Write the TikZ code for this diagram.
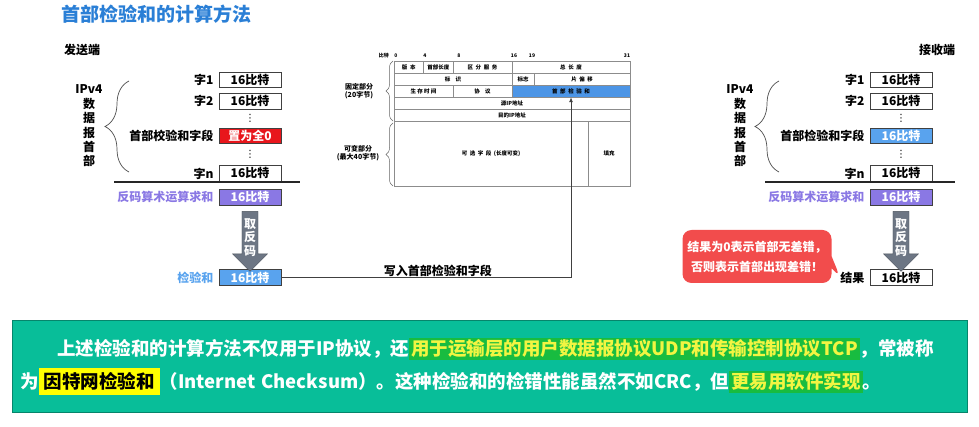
\documentclass[tikz,border=0pt]{standalone}
\usepackage{fontspec}
\setmainfont{Noto Sans CJK SC}
\newfontfamily\dotsfont{DejaVu Sans}
\definecolor{ckTitle}{HTML}{2A7FD6}
\definecolor{ckRed}{HTML}{E8161C}
\definecolor{ckPurple}{HTML}{8A78E4}
\definecolor{ckBlue}{HTML}{59A3EE}
\definecolor{ckGray}{HTML}{6D7684}
\definecolor{ckField}{HTML}{4C95E6}
\definecolor{ckCoral}{HTML}{F24C4C}
\definecolor{ckTeal}{HTML}{08BE99}
\definecolor{ckLeaf}{HTML}{18BC40}
\definecolor{ckLemon}{HTML}{F2F542}
\definecolor{ckYellow}{HTML}{FFFF00}
\usetikzlibrary{arrows.meta, positioning, shapes.arrows, shapes.callouts, decorations.pathreplacing, calc}
\newcommand{\hlg}[1]{{\setlength{\fboxsep}{2pt}\colorbox{ckLeaf}{\textcolor{ckLemon}{#1}}}}
\newcommand{\hly}[1]{{\setlength{\fboxsep}{5pt}\colorbox{ckYellow}{\textcolor{black}{#1}}}}

\begin{document}
\begin{tikzpicture}[
    x=1pt, y=-1pt,
    node distance=5pt,
    bitbox/.style={draw=black!75, line width=0.8pt, minimum width=62pt, minimum height=15.5pt,
      inner sep=0pt, font=\bfseries\fontsize{12}{14}\selectfont},
    zerobox/.style={bitbox, fill=ckRed, text=white},
    sumbox/.style={bitbox, fill=ckPurple, text=white},
    ckbox/.style={bitbox, fill=ckBlue, text=white},
    wordlab/.style={font=\bfseries\fontsize{12}{14}\selectfont, inner sep=0pt},
    endlab/.style={font=\bfseries\fontsize{12}{14}\selectfont},
    titlelab/.style={anchor=west, text=ckTitle, font=\bfseries\fontsize{19}{22}\selectfont},
    vtext/.style={align=center, font=\bfseries\fontsize{12}{14.4}\selectfont},
    vdots/.style={inner sep=0pt, font=\dotsfont\fontsize{10}{11}\selectfont},
    bigbrace/.style={decorate, decoration={brace, amplitude=24pt}, draw=black!70, line width=0.7pt},
    hline/.style={line width=1.6pt, black!85},
    negarrow/.style={single arrow, shape border rotate=270, fill=ckGray, draw=ckGray!70!black,
      text=white, minimum height=60pt, minimum width=35pt, single arrow head extend=8.5pt,
      inner sep=1pt, align=center, font=\bfseries\fontsize{12}{13.5}\selectfont},
    hcell/.style={draw=black!45, line width=0.5pt, minimum height=12pt, inner sep=0pt,
      font=\bfseries\fontsize{5.5}{6}\selectfont},
    bitnum/.style={inner sep=0pt, font=\bfseries\fontsize{5}{6}\selectfont},
    tbrace/.style={decorate, decoration={brace, amplitude=7pt}, draw=black!60, line width=0.5pt},
    partlab/.style={align=center, font=\bfseries\fontsize{7}{8.5}\selectfont},
    wline/.style={draw=black!75, line width=0.8pt, -{Latex[length=5pt, width=4pt]}},
    calloutbox/.style={rectangle callout, fill=ckCoral, text=white, rounded corners=9pt,
      minimum width=149pt, minimum height=53pt, align=center, callout pointer width=12pt,
      font=\bfseries\fontsize{12}{20}\selectfont},
    notebox/.style={fill=ckTeal, draw=ckTeal!70!black, line width=0.8pt, text width=939pt,
      inner xsep=8pt, minimum height=92pt, align=left, text=white,
      font=\bfseries\fontsize{18.5}{33}\selectfont},
  ]
  \useasboundingbox (0,0) rectangle (979,427);

  \node[titlelab] (title) at (58,14) {首部检验和的计算方法};

  % sender side
  \node[endlab] (sender) at (82,50) {发送端};
  \node[bitbox] (sw1) at (250,80) {16比特};
  \node[bitbox, below=5pt of sw1] (sw2) {16比特};
  \node[zerobox, below=18.5pt of sw2] (sck) {置为全0};
  \node[bitbox, below=21pt of sck] (swn) {16比特};
  \node[sumbox, below=7.5pt of swn] (ssum) {16比特};
  \node[ckbox, below=64pt of ssum] (sres) {16比特};

  \node[wordlab, left=5pt of sw1] (sw1lab) {字1};
  \node[wordlab, left=5pt of sw2] (sw2lab) {字2};
  \node[wordlab, left=5pt of sck] (scklab) {首部校验和字段};
  \node[wordlab, left=5pt of swn] (swnlab) {字n};
  \node[wordlab, text=ckPurple, left=5pt of ssum] (ssumlab) {反码算术运算求和};
  \node[wordlab, text=ckBlue, left=5pt of sres] (sreslab) {检验和};
  \node[vdots] (sdot1) at ($(sw2.south)!0.5!(sck.north)$) {⋮};
  \node[vdots] (sdot2) at ($(sck.south)!0.5!(swn.north)$) {⋮};

  \node[vtext] (sipv) at (89,126) {IPv4\\数\\据\\报\\首\\部};
  \draw[bigbrace] (129,172) -- (129,81);
  \draw[hline] (114,182) -- (300,182);
  \node[negarrow] (sneg) at ($(ssum.south)!0.5!(sres.north)$) {取\\反\\码};

  % IPv4 header format
  \node[bitnum, anchor=east] (bitlab) at (389,56) {比特};
  \foreach \b/\x in {0/396, 4/425, 8/459, 16/514, 19/532, 31/627}
    \node[bitnum] (bit\b) at (\x,56) {\b};

  \node[hcell, minimum width=29.5pt] (hver) at (408.75,67) {版\ \ 本};
  \node[hcell, minimum width=29.5pt] (hlen) at (438.25,67) {首部长度};
  \node[hcell, minimum width=59pt] (htos) at (482.5,67) {区\ \ 分\ \ 服\ \ 务};
  \node[hcell, minimum width=118pt] (htot) at (571,67) {总\ \ 长\ \ 度};
  \node[hcell, minimum width=118pt] (hid) at (453,79) {标\ \ \ \ 识};
  \node[hcell, minimum width=22.1pt] (hflag) at (523.05,79) {标志};
  \node[hcell, minimum width=95.9pt] (hoff) at (582.05,79) {片\ \ 偏\ \ 移};
  \node[hcell, minimum width=59pt] (httl) at (423.5,91) {生\ 存\ 时\ 间};
  \node[hcell, minimum width=59pt] (hproto) at (482.5,91) {协\ \ \ \ 议};
  \node[hcell, minimum width=118pt, fill=ckField] (hck) at (571,91) {首\ \ 部\ \ 检\ \ 验\ \ 和};
  \node[hcell, minimum width=236pt] (hsrc) at (512,103) {源IP地址};
  \node[hcell, minimum width=236pt] (hdst) at (512,115) {目的IP地址};
  \node[hcell, minimum width=194pt, minimum height=65pt] (hopt) at (491,153.5)
    {可\ \ 选\ \ 字\ \ 段\ \ (长度可变)};
  \node[hcell, minimum width=42pt, minimum height=65pt] (hpad) at (609,153.5) {填充};

  \draw[tbrace] (393,121) -- (393,61);
  \draw[tbrace] (393,186) -- (393,123);
  \node[partlab] (fixlab) at (359,91) {固定部分\\(20字节)};
  \node[partlab] (varlab) at (358,153) {可变部分\\(最大40字节)};

  \draw[wline] (sres.east) -| node[pos=0.27, above=0pt, wordlab] (writelab) {写入首部检验和字段} (hck.south);

  % receiver side
  \node[endlab] (receiver) at (937,50) {接收端};
  \node[bitbox] (rw1) at (901,80) {16比特};
  \node[bitbox, below=5pt of rw1] (rw2) {16比特};
  \node[ckbox, below=18.5pt of rw2] (rck) {16比特};
  \node[bitbox, below=21pt of rck] (rwn) {16比特};
  \node[sumbox, below=7.5pt of rwn] (rsum) {16比特};
  \node[bitbox, below=64pt of rsum] (rres) {16比特};

  \node[wordlab, left=5pt of rw1] (rw1lab) {字1};
  \node[wordlab, left=5pt of rw2] (rw2lab) {字2};
  \node[wordlab, left=5pt of rck] (rcklab) {首部检验和字段};
  \node[wordlab, left=5pt of rwn] (rwnlab) {字n};
  \node[wordlab, text=ckPurple, left=5pt of rsum] (rsumlab) {反码算术运算求和};
  \node[wordlab, left=5pt of rres] (rreslab) {结果};
  \node[vdots] (rdot1) at ($(rw2.south)!0.5!(rck.north)$) {⋮};
  \node[vdots] (rdot2) at ($(rck.south)!0.5!(rwn.north)$) {⋮};

  \node[vtext] (ripv) at (740,126) {IPv4\\数\\据\\报\\首\\部};
  \draw[bigbrace] (779,172) -- (779,81);
  \draw[hline] (765,182) -- (955,182);
  \node[negarrow] (rneg) at ($(rsum.south)!0.5!(rres.north)$) {取\\反\\码};

  \node[calloutbox, callout absolute pointer={(rreslab.west)}] (verdict) at (757,256.5)
    {结果为0表示首部无差错，\\否则表示首部出现差错！};

  % summary
  \node[notebox] (summary) at (489.5,366.5)
    {\hspace*{2em}上述检验和的计算方法不仅用于IP协议，还\hlg{用于运输层的用户数据报协议UDP和传输控制协议TCP}，常被称\\
     为\hly{因特网检验和}（Internet Checksum）。这种检验和的检错性能虽然不如CRC，但\hlg{更易用软件实现}。};
\end{tikzpicture}
\end{document}
